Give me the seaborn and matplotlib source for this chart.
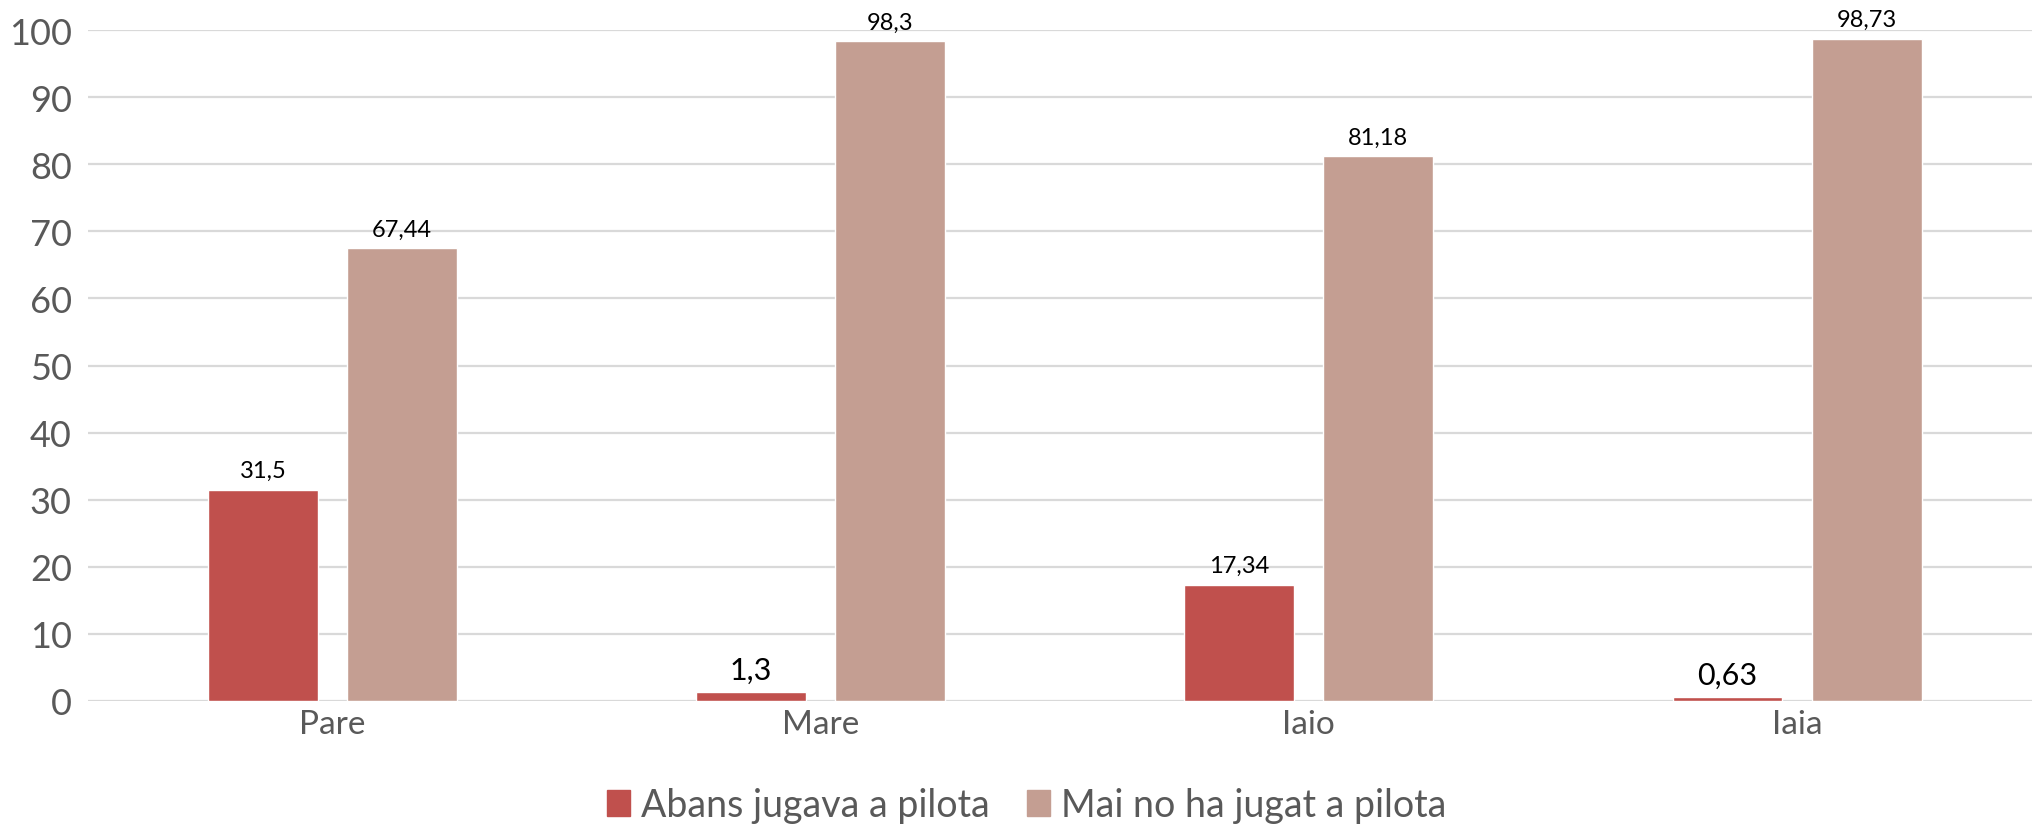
import matplotlib
matplotlib.use("Agg")
import matplotlib.pyplot as plt
import seaborn as sns
import pandas as pd

categories = ["Pare", "Mare", "Iaio", "Iaia"]
series_names = ["Abans jugava a pilota", "Mai no ha jugat a pilota"]
abans = [31.5, 1.3, 17.34, 0.63]
mai = [67.44, 98.3, 81.18, 98.73]
colors = ["#C0504D", "#C49E92"]

df = pd.DataFrame({
    "cat": categories * 2,
    "serie": [series_names[0]] * 4 + [series_names[1]] * 4,
    "valor": abans + mai,
})

sns.set_style("white")
plt.rcParams["font.family"] = ["Lato", "DejaVu Sans"]

fig = plt.figure(figsize=(20.33, 8.29), dpi=100)
ax = fig.add_axes([0.0435, 0.1532, 0.9605, 0.8094])

sns.barplot(data=df, x="cat", y="valor", hue="serie", palette=colors,
            width=0.57, gap=0.21, saturation=1, ax=ax, legend=False)

ax.set_ylim(0, 100)
ax.set_xlim(-0.5, 3.5)
ax.set_yticks(range(0, 101, 10))
ax.yaxis.grid(True, color="#D9D9D9", linewidth=1.6)
ax.set_axisbelow(True)
for s in ax.spines.values():
    s.set_visible(False)
ax.tick_params(axis="y", labelsize=26, colors="#595959", length=0, pad=12)
ax.tick_params(axis="x", labelsize=24, colors="#595959", length=0, pad=6)
ax.set_xlabel("")
ax.set_ylabel("")

# etiquetes de dades amb coma decimal
for cont in ax.containers:
    for bar in cont:
        v = bar.get_height()
        txt = f"{v:g}".replace(".", ",")
        size = 22 if v < 5 else 17
        ax.annotate(txt, (bar.get_x() + bar.get_width() / 2, v),
                    xytext=(0, 6), textcoords="offset points",
                    ha="center", va="bottom", fontsize=size, color="black")

handles = [plt.Rectangle((0, 0), 1, 1, color=c) for c in colors]
fig.legend(handles, series_names, loc="center", bbox_to_anchor=(0.505, 0.028),
           ncol=2, frameon=False, fontsize=27, handlelength=0.6, handleheight=0.7,
           handletextpad=0.3, columnspacing=1.0, labelcolor="#595959")

fig.savefig("out.png", dpi=100)
